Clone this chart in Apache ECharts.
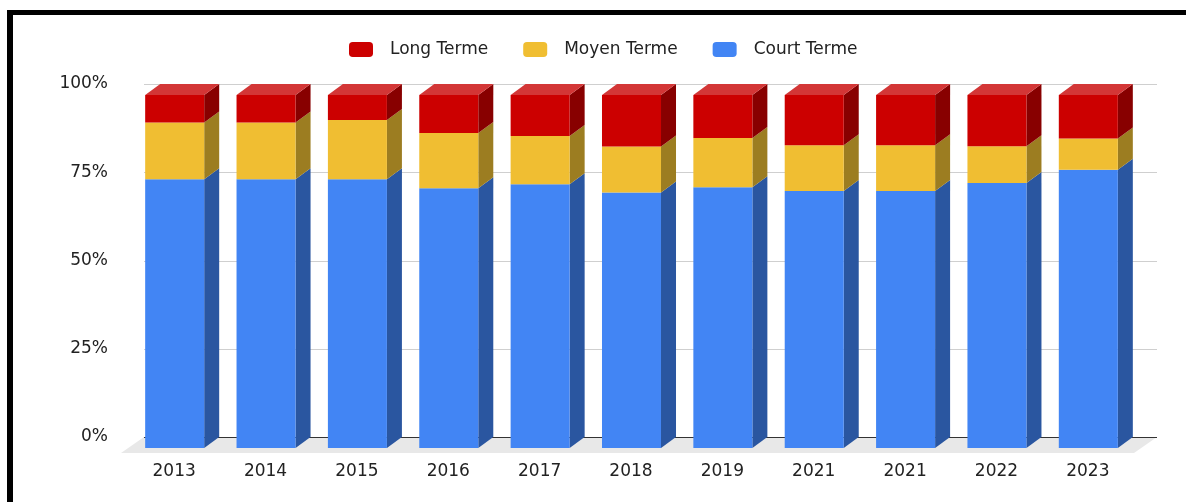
<!DOCTYPE html>
<html>
<head>
<meta charset="utf-8">
<title>Court / Moyen / Long Terme</title>
<script src="https://cdn.jsdelivr.net/npm/echarts@6/dist/echarts.min.js"></script>
<style>
  html, body { margin: 0; padding: 0; background: #fff; }
  #wrap { position: relative; width: 1186px; height: 502px; overflow: hidden; }
  /* cadre noir du haut et de gauche */
  .frame {
    position: absolute; left: 7px; top: 10px; width: 1300px; height: 600px;
    border-left: 6px solid #000; border-top: 5px solid #000;
  }
  #chart { position: absolute; left: 0; top: 0; width: 1186px; height: 502px; }
</style>
</head>
<body>
<div id="wrap">
  <div class="frame"></div>
  <div id="chart"></div>
</div>
<script>
var years = ["2013", "2014", "2015", "2016", "2017", "2018", "2019", "2021", "2021", "2022", "2023"];
var court = [76.1, 76.1, 76.1, 73.6, 74.7, 72.4, 73.9, 72.8, 72.8, 75.1, 78.8];
var moyen = [16.1, 16.1, 16.8, 15.6, 13.7, 13.0, 13.9, 13.0, 13.0, 10.4, 8.9];
var longTerme = [7.8, 7.8, 7.1, 10.8, 11.6, 14.6, 12.2, 14.2, 14.2, 14.5, 12.3];
var yTicks = [0, 25, 50, 75, 100];

var FONT = "DejaVu Sans";
// effet 3D : decalage de la face avant par rapport au plan du fond
var DX = 15, DY = 11;
var BAR = 0.646; // largeur de barre / largeur de categorie

// [index, bas, haut] pour chaque segment empile
function stackRows(values, below) {
  return values.map(function (v, i) {
    return [i, below[i], below[i] + v];
  });
}
var zero = years.map(function () { return 0; });
var moyenBase = court.slice();
var longBase = court.map(function (c, i) { return c + moyen[i]; });

function barRenderer(front, side, top) {
  return function (params, api) {
    var i = api.value(0);
    var lo = api.coord([i, api.value(1)]);
    var hi = api.coord([i, api.value(2)]);
    var w = api.size([1, 0])[0] * BAR;
    var bx = lo[0] - w / 2; // face arriere
    var fx = bx - DX;       // face avant
    var kids = [
      {
        type: "polygon",
        shape: { points: [[fx + w, hi[1] + DY], [bx + w, hi[1]], [bx + w, lo[1]], [fx + w, lo[1] + DY]] },
        style: { fill: side }
      },
      {
        type: "rect",
        shape: { x: fx, y: hi[1] + DY, width: w, height: lo[1] - hi[1] },
        style: { fill: front }
      }
    ];
    if (top) {
      kids.push({
        type: "polygon",
        shape: { points: [[fx, hi[1] + DY], [fx + w, hi[1] + DY], [bx + w, hi[1]], [bx, hi[1]]] },
        style: { fill: top }
      });
    }
    return { type: "group", children: kids };
  };
}

// sol gris + lignes de grille
function backdrop(params, api) {
  var cs = params.coordSys;
  var right = cs.x + cs.width + 8;
  var y0 = api.coord([0, 0])[1];
  var kids = [{
    type: "polygon",
    shape: { points: [[cs.x, y0], [right, y0], [right - 23, y0 + 16], [cs.x - 23, y0 + 16]] },
    style: { fill: "#e8e8e8" }
  }];
  yTicks.forEach(function (t) {
    var y = Math.round(api.coord([0, t])[1]) + 0.5;
    kids.push({
      type: "line",
      shape: { x1: cs.x, y1: y, x2: right, y2: y },
      style: { stroke: t === 0 ? "#333" : "#cfcfcf", lineWidth: 1 }
    });
  });
  return { type: "group", children: kids };
}

var myChart = echarts.init(document.getElementById("chart"));
var options = {
  animation: false,
  legend: {
    data: ["Long Terme", "Moyen Terme", "Court Terme"],
    top: 41,
    left: 349,
    padding: 0,
    icon: "roundRect",
    itemWidth: 24,
    itemHeight: 15,
    itemGap: 35,
    textStyle: { fontFamily: FONT, fontSize: 17, color: "#222", padding: [0, 0, 0, 12] }
  },
  grid: { left: 144, right: 37, top: 84, bottom: 65 },
  xAxis: {
    type: "category",
    data: years,
    axisLine: { show: false },
    axisTick: { show: false },
    splitLine: { show: false },
    axisLabel: {
      interval: 0,
      margin: 26,
      padding: [0, 31, 0, 0], // libelle centre sur la face avant
      fontFamily: FONT,
      fontSize: 17,
      color: "#222"
    }
  },
  yAxis: {
    type: "value",
    min: 0,
    max: 100,
    interval: 25,
    axisLine: { show: false },
    axisTick: { show: false },
    splitLine: { show: false },
    axisLabel: { formatter: "{value}%", margin: 36, fontFamily: FONT, fontSize: 17, color: "#222" }
  },
  series: [
    {
      type: "custom",
      silent: true,
      z: 1,
      data: [[0, 0]],
      renderItem: backdrop
    },
    {
      name: "Court Terme",
      type: "custom",
      z: 2,
      itemStyle: { color: "#4285f4" },
      data: stackRows(court, zero),
      renderItem: barRenderer("#4285f4", "#2a56a0", null)
    },
    {
      name: "Moyen Terme",
      type: "custom",
      z: 2,
      itemStyle: { color: "#f0be32" },
      data: stackRows(moyen, moyenBase),
      renderItem: barRenderer("#f0be32", "#9c7d21", null)
    },
    {
      name: "Long Terme",
      type: "custom",
      z: 2,
      itemStyle: { color: "#cc0000" },
      data: stackRows(longTerme, longBase),
      renderItem: barRenderer("#cc0000", "#880000", "#d33636")
    }
  ]
};
myChart.setOption(options);
window.addEventListener("resize", function () {
  myChart.resize();
});
</script>
</body>
</html>
